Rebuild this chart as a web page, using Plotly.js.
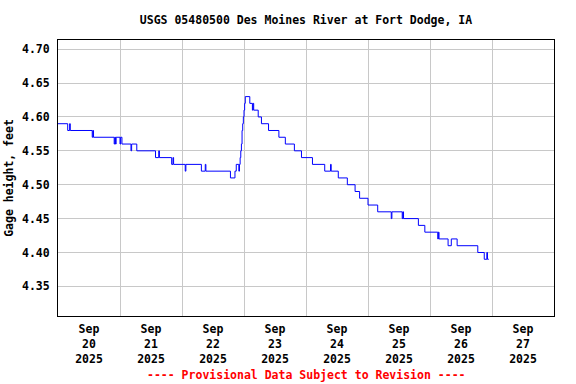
<!DOCTYPE html>
<html>
<head>
<meta charset="utf-8">
<script src="https://cdn.plot.ly/plotly-3.0.1.min.js"></script>
<style>html,body{margin:0;padding:0;background:#fff}#chart{width:576px;height:384px}</style>
</head>
<body>
<div id="chart"></div>
<script>
// Change points of gage height (feet), 15-minute data, step-wise
const times = [
 "2025-09-20 00:00","2025-09-20 03:45","2025-09-20 04:30","2025-09-20 04:45","2025-09-20 13:15","2025-09-20 13:30","2025-09-20 13:45",
 "2025-09-20 21:45","2025-09-20 22:00","2025-09-20 22:15","2025-09-20 22:30",
 "2025-09-21 00:00","2025-09-21 00:15","2025-09-21 00:45","2025-09-21 04:15","2025-09-21 04:30","2025-09-21 06:30",
 "2025-09-21 13:45","2025-09-21 15:00","2025-09-21 15:15","2025-09-21 20:00","2025-09-21 20:30","2025-09-21 20:45",
 "2025-09-22 01:15","2025-09-22 01:30","2025-09-22 07:30","2025-09-22 09:00","2025-09-22 09:15","2025-09-22 18:45",
 "2025-09-22 20:30","2025-09-22 21:00","2025-09-22 22:00","2025-09-22 22:15","2025-09-22 22:30","2025-09-22 22:45",
 "2025-09-22 23:00","2025-09-22 23:15","2025-09-22 23:30","2025-09-22 23:45",
 "2025-09-23 00:00","2025-09-23 00:15","2025-09-23 00:30","2025-09-23 02:15","2025-09-23 03:15","2025-09-23 03:30",
 "2025-09-23 03:45","2025-09-23 05:30","2025-09-23 06:45","2025-09-23 09:30","2025-09-23 13:30","2025-09-23 16:00",
 "2025-09-23 19:30","2025-09-23 22:15",
 "2025-09-24 02:30","2025-09-24 07:15","2025-09-24 09:30","2025-09-24 09:45","2025-09-24 12:30","2025-09-24 16:00",
 "2025-09-24 19:00","2025-09-24 20:45",
 "2025-09-25 00:00","2025-09-25 03:45","2025-09-25 09:00","2025-09-25 09:15","2025-09-25 13:15","2025-09-25 13:30",
 "2025-09-25 13:45","2025-09-25 19:30","2025-09-25 22:00",
 "2025-09-26 03:00","2025-09-26 03:15","2025-09-26 03:30","2025-09-26 07:00","2025-09-26 08:15","2025-09-26 10:30",
 "2025-09-26 18:30","2025-09-26 21:00","2025-09-26 22:00","2025-09-26 22:15","2025-09-26 22:45"
];
const gageHeight = [
 4.59,4.58,4.59,4.58,4.57,4.58,4.57,
 4.56,4.57,4.56,4.57,
 4.56,4.57,4.56,4.55,4.56,4.55,
 4.54,4.55,4.54,4.53,4.54,4.53,
 4.52,4.53,4.52,4.53,4.52,4.51,
 4.52,4.53,4.52,4.53,4.54,4.55,
 4.56,4.58,4.59,4.60,
 4.61,4.62,4.63,4.62,4.61,4.62,
 4.61,4.60,4.59,4.58,4.57,4.56,
 4.55,4.54,
 4.53,4.52,4.53,4.52,4.51,4.50,
 4.49,4.48,
 4.47,4.46,4.45,4.46,4.45,4.46,
 4.45,4.44,4.43,
 4.42,4.43,4.42,4.41,4.42,4.41,
 4.40,4.39,4.40,4.39,4.39
];
const tickDays = ["20","21","22","23","24","25","26","27"];
const tickMonth = "Sep";
const tickYear = "2025";
const yTicks = [4.35,4.40,4.45,4.50,4.55,4.60,4.65,4.70];

const tickvals = tickDays.map(d => "2025-09-" + d + " 12:00");
const ticktext = tickDays.map(d => tickMonth + "<br>" + d + "<br>" + tickYear);
const gridvals = ["21","22","23","24","25","26","27"].map(d => "2025-09-" + d + " 00:00");

const F = "DejaVu Sans Mono, monospace";
const trace = {
  x: times, y: gageHeight, type: "scatter", mode: "lines",
  line: {color: "#0000FF", width: 1, shape: "hv"},
  hoverinfo: "skip"
};
const layout = {
  width: 576, height: 384,
  margin: {l: 58, r: 22, t: 40, b: 68},
  paper_bgcolor: "#fff", plot_bgcolor: "#fff",
  showlegend: false,
  title: {text: "USGS 05480500 Des Moines River at Fort Dodge, IA",
          font: {family: F, size: 11.5, weight: "bold", color: "#000"},
          x: 0.5, xref: "paper", xanchor: "center", y: 1 - 20/384, yanchor: "middle"},
  xaxis: {
    type: "date", range: ["2025-09-20 00:00", "2025-09-28 00:00"],
    tickmode: "array", tickvals: tickvals, ticktext: ticktext, ticks: "",
    ticklabelstandoff: 2,
    showgrid: false, zeroline: false,
    showline: true, linecolor: "#000", linewidth: 1, mirror: true,
    tickfont: {family: F, size: 11.5, weight: "bold", color: "#000"},
    minor: {tickmode: "array", tickvals: gridvals, showgrid: true, gridcolor: "#C8C8C8", gridwidth: 1, ticks: ""}
  },
  yaxis: {
    range: [4.3063, 4.7135],
    tickmode: "array", tickvals: yTicks, ticktext: yTicks.map(v => v.toFixed(2)),
    ticks: "outside", ticklen: 5, tickcolor: "rgba(0,0,0,0)",
    showgrid: true, gridcolor: "#C8C8C8", gridwidth: 1, zeroline: false,
    showline: true, linecolor: "#000", linewidth: 1, mirror: true,
    tickfont: {family: F, size: 11.5, weight: "bold", color: "#000"},
    title: {text: "Gage height, feet", font: {family: F, size: 11.5, weight: "bold", color: "#000"}, standoff: 5}
  },
  annotations: [{
    text: "---- Provisional Data Subject to Revision ----",
    xref: "paper", yref: "paper", x: 0.5, y: -(375 - 316) / 276,
    xanchor: "center", yanchor: "middle", showarrow: false,
    font: {family: F, size: 11.5, weight: "bold", color: "#FF0000"}
  }]
};
Plotly.newPlot("chart", [trace], layout, {staticPlot: true, displayModeBar: false});
</script>
</body>
</html>
